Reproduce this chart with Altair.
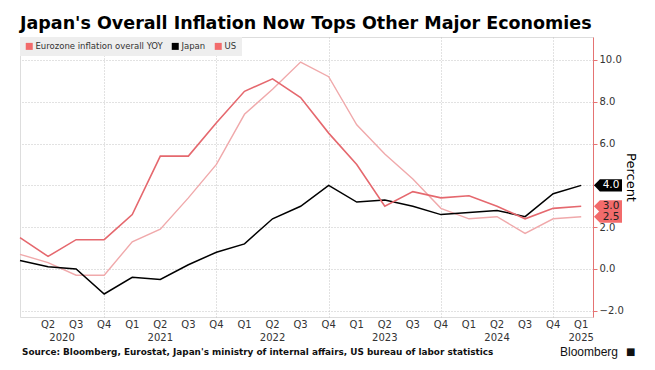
import json
import altair as alt
import pandas as pd

# ---------------- data ----------------
quarters = ["Q1", "Q2", "Q3", "Q4", "Q1", "Q2", "Q3", "Q4", "Q1", "Q2", "Q3",
            "Q4", "Q1", "Q2", "Q3", "Q4", "Q1", "Q2", "Q3", "Q4", "Q1"]
year_labels = ["2020", "2021", "2022", "2023", "2024", "2025"]
year_pos = [1.5, 5, 9, 13, 17, 20]
year_grid = [3, 7, 11, 15, 19]

euro = [0.7, 0.3, -0.3, -0.3, 1.3, 1.9, 3.4, 5.0, 7.4, 8.6, 9.9, 9.2,
        6.9, 5.5, 4.3, 2.9, 2.4, 2.5, 1.7, 2.4, 2.5]
japan = [0.4, 0.1, 0.0, -1.2, -0.4, -0.5, 0.2, 0.8, 1.2, 2.4, 3.0, 4.0,
         3.2, 3.3, 3.0, 2.6, 2.7, 2.8, 2.5, 3.6, 4.0]
us = [1.5, 0.6, 1.4, 1.4, 2.6, 5.4, 5.4, 7.0, 8.5, 9.1, 8.2, 6.5,
      5.0, 3.0, 3.7, 3.4, 3.5, 3.0, 2.4, 2.9, 3.0]

series_names = ["Eurozone inflation overall YOY", "Japan", "US"]
title_text = "Japan's Overall Inflation Now Tops Other Major Economies"
source_text = ("Source: Bloomberg, Eurostat, Japan's ministry of internal affairs, "
               "US bureau of labor statistics")

# ---------------- styles ----------------
W, H = 573, 280
line_colors = ["#f0a9ab", "#000000", "#e5686e"]
line_widths = [1.0, 1.4, 1.6]
tag_fill = ["#f26b6b", "#000000", "#f26b6b"]
tag_text = ["#222222", "#ffffff", "#222222"]
FONT = "DejaVu Sans"

# scales that carry no legend use a reversed domain order, so that Vega-Lite
# does not merge their (disabled) legends with the visible one
rev_names = series_names[::-1]

rows = []
for name, vals in zip(series_names, [euro, japan, us]):
    for i, v in enumerate(vals):
        rows.append({"idx": i, "value": v, "series": name})
df = pd.DataFrame(rows)

tag_df = pd.DataFrame({
    "series": series_names,
    "value": [euro[-1], japan[-1], us[-1]],
})
year_df = pd.DataFrame({"year": year_labels, "pos": year_pos})
quarter_df = pd.DataFrame({"idx": list(range(1, len(quarters))), "q": quarters[1:]})

xscale = alt.Scale(domain=[0, 20.42], nice=False, zero=False)
yscale = alt.Scale(domain=[-2.3, 11.1], nice=False, zero=False)

x_axis = alt.Axis(
    values=year_grid, labels=False,
    tickSize=0, domain=False, title=None,
    grid=True, gridDash=[1, 2], gridColor="#c4c4c4",
)
y_axis = alt.Axis(
    orient="right",
    values=list(range(-2, 12)),
    labelExpr="datum.value % 2 == 0 ? format(datum.value, '.1f') : ''",
    tickSize=4, tickColor="#e57373", domainColor="#e57373",
    labelFont=FONT, labelFontSize=10, labelColor="#333333", labelPadding=2,
    labelFlush=False, labelOverlap=False,
    grid=True, gridDash=[1, 2], gridColor="#c4c4c4",
    gridOpacity={"condition": {"test": "datum.value % 2 == 0", "value": 1}, "value": 0},
    title="Percent", titleFont=FONT, titleFontSize=13, titleFontWeight="normal",
    titleColor="#000000", titleAngle=90, titlePadding=0,
)

legend = alt.Legend(
    orient="none", legendX=0, legendY=0, direction="horizontal", title=None,
    fillColor="#eeeeee", padding=5, symbolType="square", symbolSize=49,
    symbolStrokeWidth=0, labelFont=FONT, labelFontSize=8.5, labelColor="#333333",
    columnPadding=8, labelOffset=2, symbolOpacity=1,
)

lines = alt.Chart(df).mark_line(strokeJoin="miter").encode(
    x=alt.X("idx:Q", scale=xscale, axis=x_axis),
    y=alt.Y("value:Q", scale=yscale, axis=y_axis),
    stroke=alt.Stroke("series:N", scale=alt.Scale(domain=rev_names, range=line_colors[::-1]),
                      legend=None),
    strokeWidth=alt.StrokeWidth("series:O", scale=alt.Scale(domain=rev_names, range=line_widths[::-1]),
                                legend=None),
    order=alt.Order("idx:Q"),
)

tag_path = "M-1,0L-0.58,-0.43L1,-0.43L1,0.43L-0.58,0.43Z"
tags = alt.Chart(tag_df).mark_point(shape=tag_path, size=784, filled=True, opacity=1,
                                    strokeWidth=0).encode(
    x=alt.value(W + 15),
    y=alt.Y("value:Q", scale=yscale),
    fill=alt.Fill("series:N", scale=alt.Scale(domain=series_names, range=tag_fill), legend=legend),
)
tag_labels = alt.Chart(tag_df).mark_text(font=FONT, fontSize=10.5, align="center",
                                         baseline="middle").encode(
    x=alt.value(W + 18),
    y=alt.Y("value:Q", scale=yscale),
    text=alt.Text("value:Q", format=".1f"),
    color=alt.Color("series:N", scale=alt.Scale(domain=rev_names, range=tag_text[::-1]), legend=None),
)

qlabels = alt.Chart(quarter_df).mark_text(font=FONT, fontSize=10, color="#333333",
                                          baseline="middle").encode(
    x=alt.X("idx:Q", scale=xscale),
    y=alt.value(H + 8),
    text="q:N",
)
years = alt.Chart(year_df).mark_text(font=FONT, fontSize=10, color="#333333",
                                     baseline="middle").encode(
    x=alt.X("pos:Q", scale=xscale),
    y=alt.value(H + 21),
    text="year:N",
)

source = alt.Chart(pd.DataFrame({"t": [source_text]})).mark_text(
    font=FONT, fontSize=8.9, fontWeight="bold", color="#111111", align="left",
    baseline="middle").encode(x=alt.value(2), y=alt.value(H + 35), text="t:N")

brand = alt.Chart(pd.DataFrame({"t": ["Bloomberg"]})).mark_text(
    font="Liberation Sans", fontSize=12, color="#111111",
    align="left", baseline="middle").encode(x=alt.value(540), y=alt.value(H + 35), text="t:N")
logo = alt.Chart(pd.DataFrame({"t": ["\u25a0"]})).mark_text(
    font=FONT, fontSize=10, color="#111111", align="left",
    baseline="middle").encode(x=alt.value(606), y=alt.value(H + 35), text="t:N")

chart = alt.layer(lines, tags, tag_labels, qlabels, years, source, brand, logo).properties(
    width=W, height=H,
    autosize=alt.AutoSizeParams(type="none"),
    padding={"left": 12, "top": 29, "right": 52, "bottom": 46},
    title=alt.TitleParams(title_text, anchor="start", frame="group", font=FONT,
                          fontSize=17.5, fontWeight="bold", color="#000000", offset=5),
).configure_view(stroke=None).configure(background="white")

chart.save("out.html", embed_options={"renderer": "svg", "actions": False})
